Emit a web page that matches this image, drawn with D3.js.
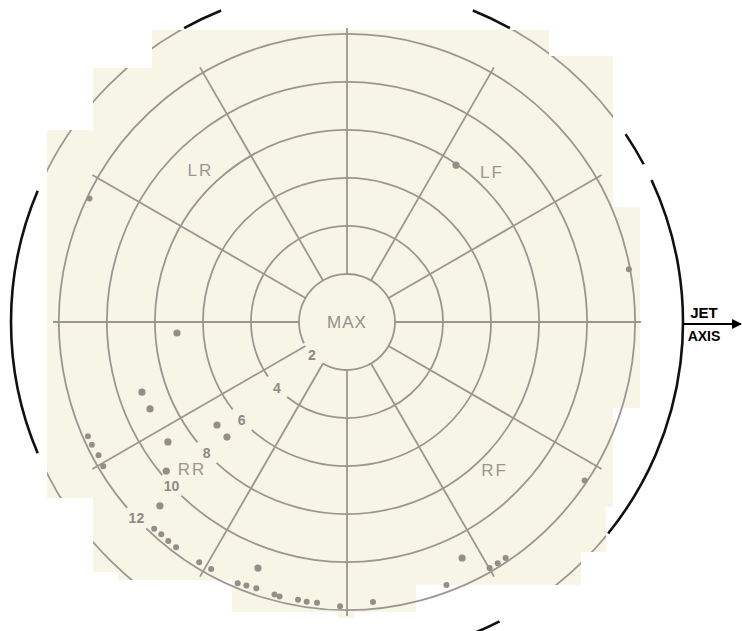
<!DOCTYPE html>
<html lang="en">
<head>
<meta charset="UTF-8">
<title>Jet Axis Polar Plot</title>
<script src="https://d3js.org/d3.v7.min.js"></script>
<style>
  body { margin: 0; background: #ffffff; }
  text { font-family: "Liberation Sans", Arial, sans-serif; }
</style>
</head>
<body>
<div id="polar"></div>
<script>

// rings (the MAX circle is ring 2), labelled along one diagonal
var ringValues = [2, 4, 6, 8, 10, 12];
var ringLabels = ["2", "4", "6", "8", "10", "12"];
var ringLabelAngle = 223;          // degrees, counter-clockwise from the jet axis

// radial spokes
var spokeAngles = [0, 30, 60, 90, 120, 150, 180, 210, 240, 270, 300, 330];

// quadrant names
var quadNames  = ["LF", "LR", "RR", "RF"];
var quadAngles = [46, 134, 223.5, 315];
var quadValues = [8.7, 8.8, 8.9, 8.7];

// plotted points: angle (deg, ccw from jet axis) and ring value
var pointAngles = [154.4, 55.2, 10.6, 183.7, 198.9, 203.8, 218.4, 223.8, 213.8, 219.5,
                   224.5, 203.8, 205.7, 208.2, 210.6, 227.0, 228.8, 230.8, 232.8, 238.4,
                   241.2, 250.1, 247.3, 249.1, 251.2, 255.1, 256.2, 260.0, 261.8, 263.9,
                   268.6, 275.3, 290.7, 296.0, 300.1, 302.0, 303.9, 326.3];
var pointValues = [11.9, 7.96, 11.95, 7.1, 9.03, 8.97, 6.91, 6.93, 8.98, 9.76,
                   10.93, 11.8, 11.8, 11.75, 11.8, 11.78, 11.75, 11.78, 11.78, 11.75,
                   11.75, 10.9, 11.8, 11.75, 11.72, 11.75, 11.78, 11.75, 11.78, 11.76,
                   11.85, 11.72, 11.72, 10.94, 11.85, 11.85, 11.85, 11.9];

// outer boundary ring (14) - parts printed dark outside the scanned sheet
var outerValue = 14;
var outerDarkFrom = [112, 157, 61, 28, -39, 292];
var outerDarkTo   = [119, 203, 68, 34, 25, 297];

var width = 742, height = 631;
var cx = 347, cy = 322;

var svg = d3.select("#polar")
  .append("svg")
    .attr("width", width)
    .attr("height", height);

// scanned sheet outline
var sheet = [[152,30],[549,30],[549,56],[613,56],[613,207],[640,207],[640,408],[613,408],
             [613,507],[606,507],[606,552],[581,552],[581,585],[416,585],[416,612],[354,612],
             [354,618],[338,618],[338,612],[232,612],[232,580],[118,580],[118,572],[93,572],
             [93,498],[47,498],[47,130],[93,130],[93,68],[152,68]];

svg.append("clipPath").attr("id", "sheet")
  .append("path").attr("d", d3.line()(sheet) + "Z");

svg.append("path")
  .attr("d", d3.line()(sheet) + "Z")
  .attr("fill", "#f6f5e6");

var g = svg.append("g")
  .attr("transform", "translate(" + cx + "," + cy + ")");

var r = d3.scaleLinear().domain([0, 14]).range([0, 336]);
// degrees ccw from jet axis -> d3 radial angle (clockwise from 12 o'clock)
var a = d3.scaleLinear().domain([0, 360]).range([Math.PI / 2, Math.PI / 2 - 2 * Math.PI]);

var grey = "#9c9691";

function arcPath(rad, fromDeg, toDeg) {
  // arc from fromDeg to toDeg, counter-clockwise on screen
  var p = d3.path();
  p.arc(0, 0, rad, a(fromDeg) - Math.PI / 2, a(toDeg) - Math.PI / 2, true);
  return p.toString();
}

// outer ring inside the sheet (grey)
g.append("g").attr("clip-path", "url(#sheet)")
  .attr("transform", "translate(" + (-cx) + "," + (-cy) + ")")
  .append("circle")
    .attr("cx", cx).attr("cy", cy)
    .attr("r", r(outerValue))
    .attr("fill", "none")
    .attr("stroke", grey)
    .attr("stroke-width", 1.7);

// outer ring outside the sheet (dark)
g.selectAll(".outer")
  .data(outerDarkFrom)
  .enter()
  .append("path")
    .attr("d", function(d, i) { return arcPath(r(outerValue), d, outerDarkTo[i]); })
    .attr("fill", "none")
    .attr("stroke", "#111")
    .attr("stroke-width", 2.6);

// spokes
g.selectAll(".spoke")
  .data(spokeAngles)
  .enter()
  .append("line")
    .attr("x1", function(d) { return d3.pointRadial(a(d), r(2))[0]; })
    .attr("y1", function(d) { return d3.pointRadial(a(d), r(2))[1]; })
    .attr("x2", function(d) { return d3.pointRadial(a(d), r(12.25))[0]; })
    .attr("y2", function(d) { return d3.pointRadial(a(d), r(12.25))[1]; })
    .attr("stroke", grey)
    .attr("stroke-width", 1.8);

// rings with a gap for the number
g.selectAll(".ring")
  .data(ringValues)
  .enter()
  .append("path")
    .attr("d", function(d) {
      var gap = 14 / r(d) * 180 / Math.PI;
      return arcPath(r(d), ringLabelAngle + gap, ringLabelAngle - gap + 360);
    })
    .attr("fill", "none")
    .attr("stroke", grey)
    .attr("stroke-width", 1.8);

g.selectAll(".ringLabel")
  .data(ringValues)
  .enter()
  .append("text")
    .attr("x", function(d) { return d3.pointRadial(a(ringLabelAngle), r(d))[0]; })
    .attr("y", function(d) { return d3.pointRadial(a(ringLabelAngle), r(d))[1]; })
    .attr("dy", "0.36em")
    .attr("text-anchor", "middle")
    .attr("fill", "#8f8984")
    .style("font-size", "14px")
    .style("font-weight", "bold")
    .text(function(d, i) { return ringLabels[i]; });

// quadrant names
g.selectAll(".quad")
  .data(quadNames)
  .enter()
  .append("text")
    .attr("x", function(d, i) { return d3.pointRadial(a(quadAngles[i]), r(quadValues[i]))[0]; })
    .attr("y", function(d, i) { return d3.pointRadial(a(quadAngles[i]), r(quadValues[i]))[1]; })
    .attr("dy", "0.36em")
    .attr("text-anchor", "middle")
    .attr("fill", "#9c9691")
    .style("font-size", "17px")
    .style("letter-spacing", "2px")
    .text(function(d) { return d; });

g.append("text")
  .attr("x", 0).attr("y", 0)
  .attr("dy", "0.36em")
  .attr("text-anchor", "middle")
  .attr("fill", "#96908b")
  .style("font-size", "17px")
  .style("letter-spacing", "1px")
  .text("MAX");

// points
g.selectAll(".pt")
  .data(pointValues)
  .enter()
  .append("circle")
    .attr("cx", function(d, i) { return d3.pointRadial(a(pointAngles[i]), r(d))[0]; })
    .attr("cy", function(d, i) { return d3.pointRadial(a(pointAngles[i]), r(d))[1]; })
    .attr("r", function(d) { return d > 11.5 ? 3.0 : 3.6; })
    .attr("fill", "#948e89");

// jet axis arrow
var ax = d3.pointRadial(a(0), r(outerValue));
svg.append("defs").append("marker")
    .attr("id", "head")
    .attr("viewBox", "0 0 10 10")
    .attr("refX", 9).attr("refY", 5)
    .attr("markerWidth", 5).attr("markerHeight", 5)
    .attr("orient", "auto")
  .append("path")
    .attr("d", "M0,0L10,5L0,10Z")
    .attr("fill", "#000");

g.append("line")
  .attr("x1", ax[0]).attr("y1", 2)
  .attr("x2", 394).attr("y2", 2)
  .attr("stroke", "#000")
  .attr("stroke-width", 2)
  .attr("marker-end", "url(#head)");

g.append("text")
  .attr("x", ax[0] + 21).attr("y", -4)
  .attr("text-anchor", "middle")
  .style("font-size", "15px")
  .style("font-weight", "bold")
  .text("JET");

g.append("text")
  .attr("x", ax[0] + 21).attr("y", 19)
  .attr("text-anchor", "middle")
  .style("font-size", "14px")
  .style("font-weight", "bold")
  .text("AXIS");

</script>
</body>
</html>
